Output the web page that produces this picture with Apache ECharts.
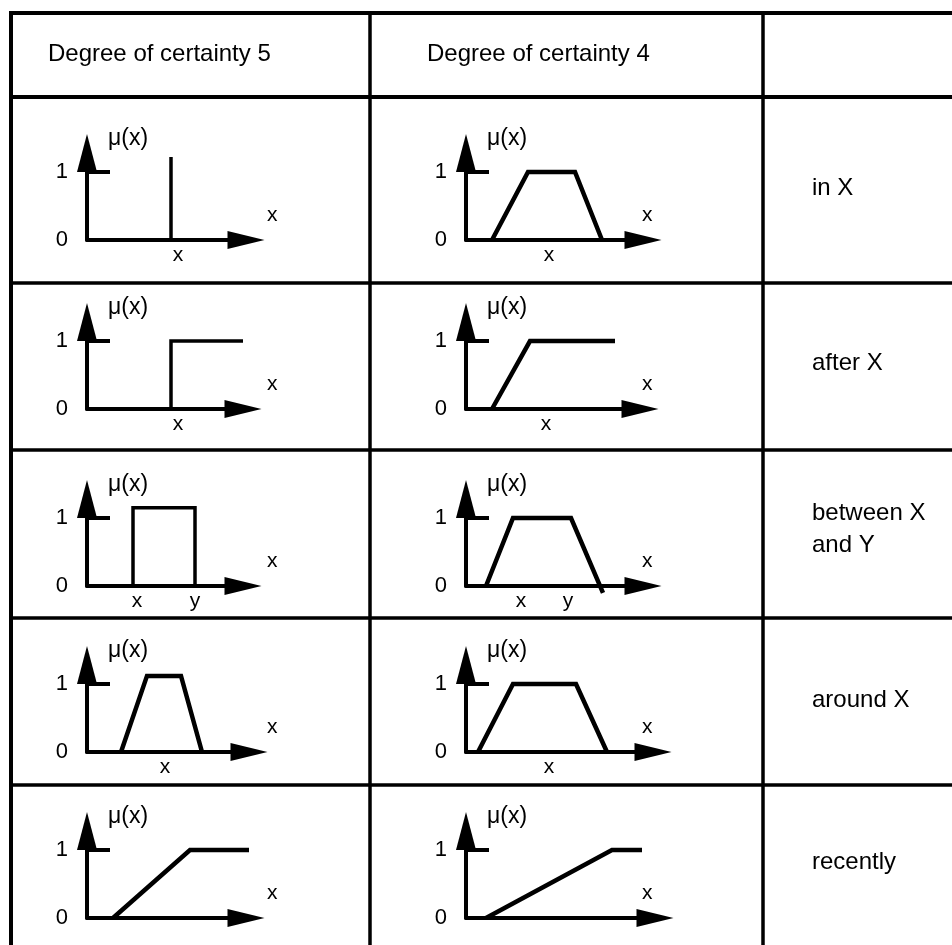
<!DOCTYPE html>
<html>
<head>
<meta charset="utf-8">
<script src="https://cdn.jsdelivr.net/npm/echarts@6/dist/echarts.min.js"></script>
<style>
  html, body { margin: 0; padding: 0; background: #fff; }
  #chart { width: 952px; height: 945px; }
</style>
</head>
<body>
<div id="chart"></div>
<script>
// column headers and row meanings
const headers = ['Degree of certainty 5', 'Degree of certainty 4']
const rowNames = ['in X', 'after X', 'between X\nand Y', 'around X', 'recently']
const yTickValues = [0, 1]

// membership functions, points are [x, mu(x)], x in units of the small axes
const inX5 = [[8.4, 0], [8.4, 1.22]]
const inX4 = [[2.6, 0], [6.2, 1], [10.9, 1], [13.6, 0]]
const afterX5 = [[8.4, 0], [8.4, 1], [15.6, 1]]
const afterX4 = [[2.6, 0], [6.4, 1], [14.9, 1]]
const betweenXY5 = [[4.6, 0], [4.6, 1.15], [10.8, 1.15], [10.8, 0]]
const betweenXY4 = [[2.0, 0], [4.7, 1], [10.5, 1], [13.7, -0.1]]
const aroundX5 = [[3.4, 0], [6.0, 1.12], [9.4, 1.12], [11.5, 0]]
const aroundX4 = [[1.2, 0], [4.7, 1], [11.0, 1], [14.1, 0]]
const recently5 = [[2.6, 0], [10.3, 1], [16.3, 1]]
const recently4 = [[2.0, 0], [14.6, 1], [17.6, 1]]

// labels under the x axis: [x, text]
const inXMarks5 = [[9.1, 'x']]
const inXMarks4 = [[8.3, 'x']]
const afterXMarks5 = [[9.1, 'x']]
const afterXMarks4 = [[8.0, 'x']]
const betweenMarks5 = [[5.0, 'x'], [10.8, 'y']]
const betweenMarks4 = [[5.5, 'x'], [10.2, 'y']]
const aroundMarks5 = [[7.8, 'x']]
const aroundMarks4 = [[8.3, 'x']]
const recentlyMarks5 = []
const recentlyMarks4 = []

// the "1" tick crosses the y axis
const unitTick = [-2.0, 2.3]

const curves = [
    [inX5, inX4], [afterX5, afterX4], [betweenXY5, betweenXY4],
    [aroundX5, aroundX4], [recently5, recently4]
]
const marks = [
    [inXMarks5, inXMarks4], [afterXMarks5, afterXMarks4], [betweenMarks5, betweenMarks4],
    [aroundMarks5, aroundMarks4], [recentlyMarks5, recentlyMarks4]
]

// layout (pixels)
const font = 'Liberation Sans, Arial, Helvetica, sans-serif'
const tableLeft = 11, tableTop = 13, headerBottom = 97
const colLines = [370, 763]
const rowLines = [283, 450, 618, 785]
const axisX = [87, 466]
const axisY = [240, 409, 586, 752, 918]
const arrowEnd = [[246, 243, 243, 249, 246], [643, 640, 643, 653, 655]]
const xNameLeft = [267, 642]
const plotH = 87
const yMax = 1.28
const lineWidths = [[3.5, 4.5], [3.5, 4.5], [3.5, 4.5], [4.5, 4.5], [4.5, 4.5]]
const labelY = [188, 363, 529, 700, 862]

const chart = echarts.init(document.getElementById('chart'))

const grid = [], xAxis = [], yAxis = [], series = []
curves.forEach((pair, r) => {
    pair.forEach((curve, c) => {
        const i = grid.length
        const left = axisX[c]
        const end = arrowEnd[c][r]
        const rowMarks = marks[r][c]
        grid.push({
            left: left,
            top: axisY[r] - plotH,
            width: end - left,
            height: plotH,
            outerBoundsMode: 'none'
        })
        xAxis.push({
            gridIndex: i,
            type: 'value',
            min: 0,
            max: (end - left) / 10,
            // blank second line lifts the "x" above the axis
            name: 'x\n ',
            nameLocation: 'end',
            nameGap: xNameLeft[c] - end,
            nameTextStyle: {
                color: '#000',
                fontSize: 21,
                lineHeight: 50,
                fontFamily: font,
                align: 'left',
                verticalAlign: 'middle'
            },
            axisLine: {
                lineStyle: { color: '#000', width: 4 },
                symbol: ['none', 'triangle'],
                symbolSize: [18, 37]
            },
            axisTick: { show: false },
            splitLine: { show: false },
            axisLabel: {
                show: rowMarks.length > 0,
                customValues: rowMarks.map(m => m[0]),
                formatter: v => {
                    const m = rowMarks.find(k => Math.abs(k[0] - v) < 1e-6)
                    return m ? m[1] : ''
                },
                margin: 5,
                color: '#000',
                fontSize: 21,
                fontFamily: font
            }
        })
        yAxis.push({
            gridIndex: i,
            type: 'value',
            min: 0,
            max: yMax,
            name: 'μ(x)',
            nameLocation: 'end',
            nameGap: 14,
            nameTextStyle: {
                color: '#000',
                fontSize: 23,
                fontFamily: font,
                align: 'left',
                verticalAlign: 'middle',
                padding: [0, 0, 0, 21]
            },
            axisLine: {
                lineStyle: { color: '#000', width: 4 },
                symbol: ['none', 'triangle'],
                symbolSize: [20, 38]
            },
            axisTick: { show: false },
            splitLine: { show: false },
            axisLabel: {
                customValues: yTickValues,
                margin: 19,
                color: '#000',
                fontSize: 22,
                fontFamily: font
            }
        })
        series.push({
            type: 'line',
            xAxisIndex: i,
            yAxisIndex: i,
            data: unitTick.map(x => [x, 1]),
            symbol: 'none',
            clip: false,
            silent: true,
            lineStyle: { color: '#000', width: 4 }
        })
        series.push({
            type: 'line',
            xAxisIndex: i,
            yAxisIndex: i,
            data: curve,
            symbol: 'none',
            clip: false,
            silent: true,
            lineStyle: { color: '#000', width: lineWidths[r][c], join: 'miter' }
        })
    })
})

// table rules
const rule = (x1, y1, x2, y2, w) => ({
    type: 'line',
    silent: true,
    shape: { x1, y1, x2, y2 },
    style: { stroke: '#000', lineWidth: w }
})
const graphic = [
    rule(tableLeft, tableTop, 952, tableTop, 4),
    rule(tableLeft, tableTop - 2, tableLeft, 945, 4),
    rule(tableLeft, headerBottom, 952, headerBottom, 4),
    ...colLines.map(x => rule(x, tableTop, x, 945, 3.5)),
    ...rowLines.map(y => rule(tableLeft, y, 952, y, 3.5))
]
const headerX = [48, 427]
headers.forEach((h, k) => {
    graphic.push({
        type: 'text',
        x: headerX[k],
        y: 54,
        silent: true,
        style: { text: h, fill: '#000', fontSize: 24, fontFamily: font, verticalAlign: 'middle' }
    })
})
rowNames.forEach((t, r) => {
    graphic.push({
        type: 'text',
        x: 812,
        y: labelY[r],
        silent: true,
        style: { text: t, fill: '#000', fontSize: 24, lineHeight: 32, fontFamily: font, verticalAlign: 'middle' }
    })
})

chart.setOption({
    backgroundColor: '#fff',
    animation: false,
    grid,
    xAxis,
    yAxis,
    series,
    graphic
})
</script>
</body>
</html>
